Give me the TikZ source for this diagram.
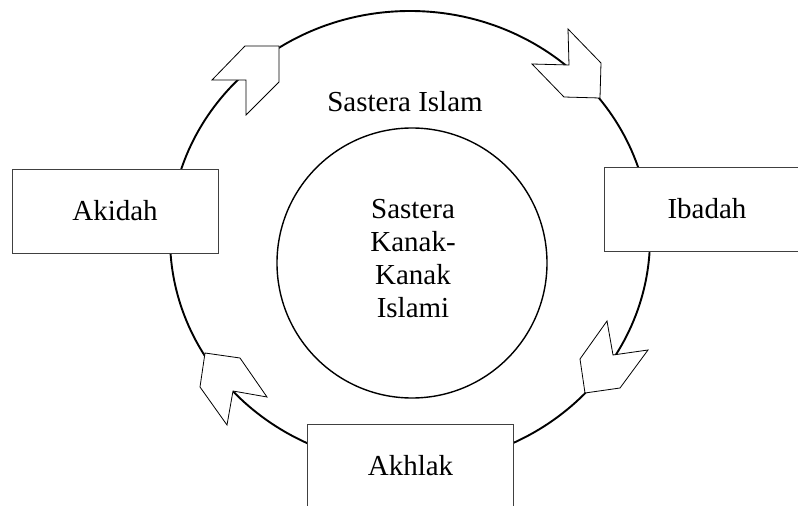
\documentclass[tikz,border=0pt]{standalone}
\usepackage{fontspec}
\setmainfont{Liberation Serif}
\usepackage{tikz}
\usetikzlibrary{calc}

\begin{document}
\begin{tikzpicture}[x=1pt,y=-1pt,
    txt/.style={font=\fontsize{29}{33}\selectfont},
    box/.style={draw=black!75,line width=0.9pt,fill=white,minimum width=206pt,minimum height=84pt,txt},
    chev/.style={draw=black,line width=0.8pt,fill=white,line join=miter}]
    \useasboundingbox (0,0) rectangle (798,506);
    \clip (0,0) rectangle (798,506);
    \coordinate (O) at (410,238); % centre of outer ring
    \draw[line width=1.9pt] (O) ellipse[x radius=240,y radius=227]; % outer ring
    \draw[line width=1.4pt] (412,263) circle[radius=135]; % inner circle
    \node[txt] (islam) at (405,102) {Sastera Islam};
    \node[txt,align=center] (kanak) at (413,259) {Sastera\\Kanak-\\Kanak\\Islami};
    % block arrows along the ring
    \draw[chev] (279,46) -- (245,46) -- (212,80) -- (246,80) -- (246,115) -- (279,82) -- cycle;
    \draw[chev] (600,98) -- (601,63) -- (568,29) -- (569,65) -- (532,64) -- (564,97) -- cycle;
    \draw[chev] (585,393) -- (620,388) -- (648,350) -- (613,355) -- (607,321) -- (580,359) -- cycle;
    \draw[chev] (205,353) -- (240,358) -- (267,397) -- (233,391) -- (227,425) -- (200,387) -- cycle;
    % the three boxes
    \node[box] (akidah) at (115,211) {Akidah};
    \node[box] (ibadah) at (707,209) {Ibadah};
    \node[box] (akhlak) at (410.5,466) {Akhlak};
\end{tikzpicture}
\end{document}
